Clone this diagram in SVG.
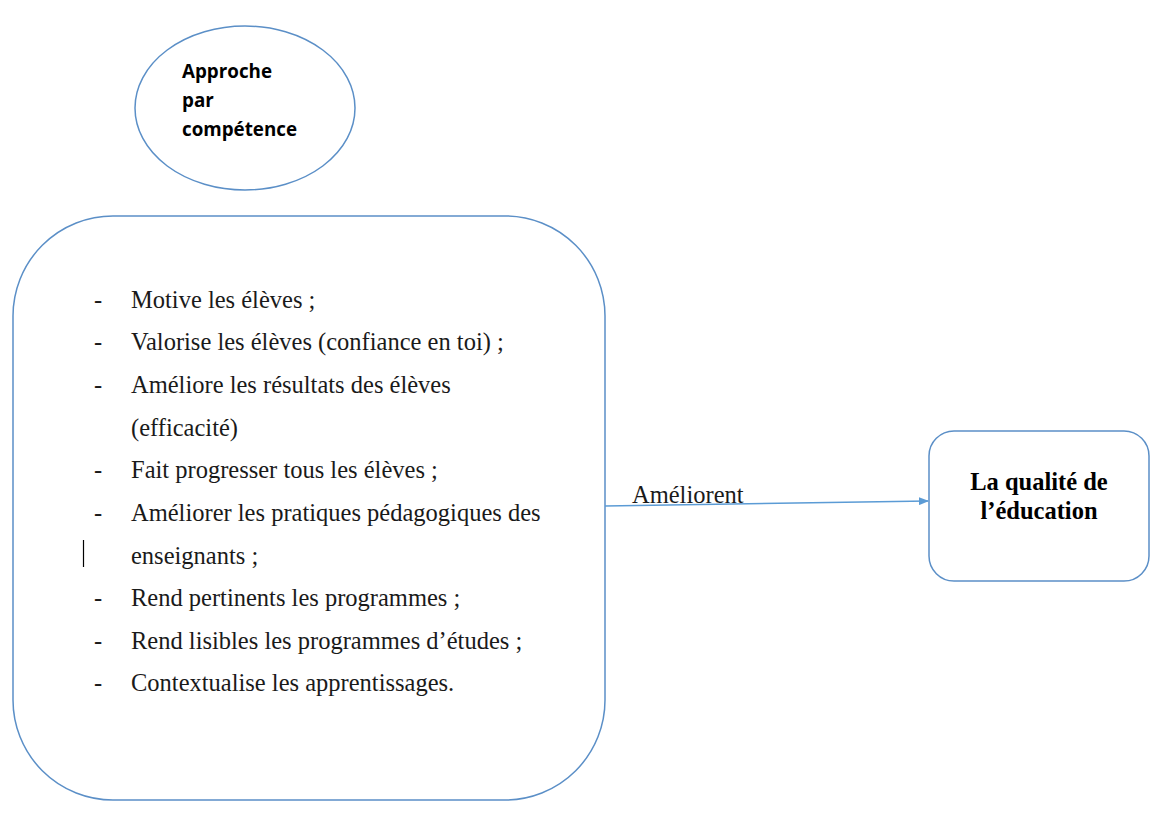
<svg xmlns="http://www.w3.org/2000/svg" width="1155" height="814" viewBox="0 0 1155 814">
  <style>
    .shape { fill: #ffffff; stroke: #5b8fc7; stroke-width: 1.5; }
    .body { font-family: 'Liberation Serif', 'DejaVu Serif', 'Times New Roman', serif; font-size: 24.5px; fill: #1a1a1a; }
    .bold { font-family: 'Liberation Serif', 'DejaVu Serif', 'Times New Roman', serif; font-size: 24.5px; font-weight: bold; fill: #000; }
    .sans { font-family: 'Open Sans', 'Liberation Sans', sans-serif; font-size: 18.8px; font-weight: bold; fill: #000; }
    .edge { stroke: #5b9bd5; stroke-width: 1.5; fill: none; }
  </style>
  <defs>
    <marker id="arrow" markerWidth="10" markerHeight="8" refX="9" refY="4" orient="auto" markerUnits="userSpaceOnUse">
      <path d="M0,0 L10,4 L0,8 Z" fill="#5b9bd5"/>
    </marker>
  </defs>
  <rect width="1155" height="814" fill="#ffffff"/>

  <g id="approche">
    <ellipse class="shape" cx="245" cy="108" rx="110" ry="82"/>
    <text class="sans" x="182" y="78">Approche</text>
    <text class="sans" x="182" y="107">par</text>
    <text class="sans" x="182" y="136">compétence</text>
  </g>

  <g id="effets">
    <rect class="shape" x="13" y="216" width="592" height="584" rx="100" ry="100"/>
    <g class="body">
      <text x="94" y="308">-</text><text x="131" y="308">Motive les élèves ;</text>
      <text x="94" y="350">-</text><text x="131" y="350">Valorise les élèves (confiance en toi) ;</text>
      <text x="94" y="393">-</text><text x="131" y="393">Améliore les résultats des élèves</text>
      <text x="131" y="436">(efficacité)</text>
      <text x="94" y="478">-</text><text x="131" y="478">Fait progresser tous les élèves ;</text>
      <text x="94" y="521">-</text><text x="131" y="521">Améliorer les pratiques pédagogiques des</text>
      <text x="131" y="564">enseignants ;</text>
      <text x="94" y="606">-</text><text x="131" y="606">Rend pertinents les programmes ;</text>
      <text x="94" y="649">-</text><text x="131" y="649">Rend lisibles les programmes d’études ;</text>
      <text x="94" y="691">-</text><text x="131" y="691">Contextualise les apprentissages.</text>
    </g>
    <line x1="83.5" y1="540" x2="83.5" y2="567" stroke="#000" stroke-width="1.2"/>
  </g>

  <g id="qualite">
    <rect class="shape" x="929" y="431" width="220" height="150" rx="25" ry="25"/>
    <text class="bold" x="1039" y="490" text-anchor="middle">La qualité de</text>
    <text class="bold" x="1039" y="519" text-anchor="middle">l’éducation</text>
  </g>

  <g id="connectors">
    <line class="edge" x1="605" y1="506" x2="928" y2="501" marker-end="url(#arrow)"/>
    <text class="body" x="632" y="503">Améliorent</text>
  </g>
</svg>
